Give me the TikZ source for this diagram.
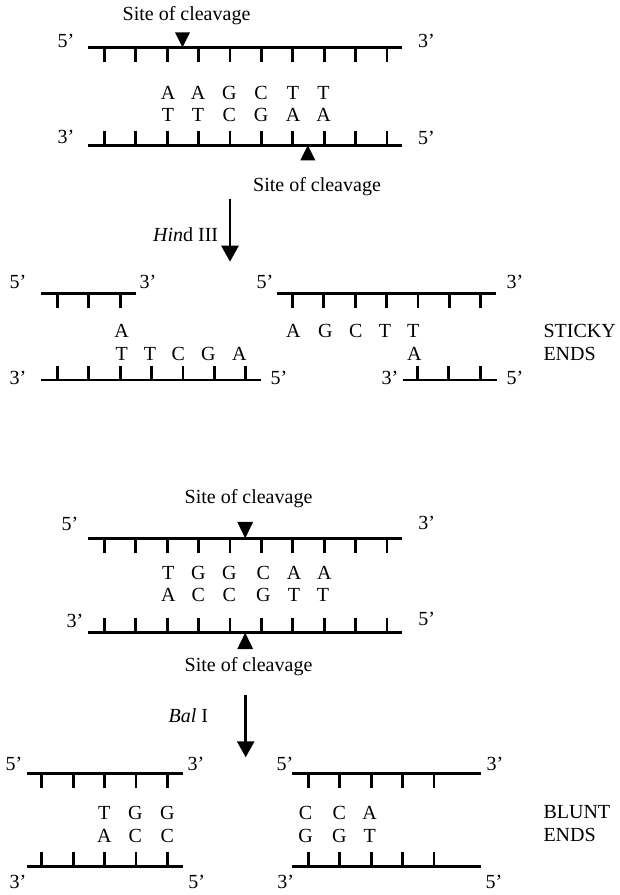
\documentclass[tikz,border=0pt]{standalone}
\usepackage{fontspec}
\setmainfont{Liberation Serif}
\usetikzlibrary{arrows.meta,positioning}

\begin{document}
\begin{tikzpicture}[x=1pt, y=-1pt,
    every node/.style={inner sep=0pt, font=\fontsize{20}{24}\selectfont},
    strand/.style={line width=2.8pt},
    rung/.style={line width=2.8pt},
    site/.style={fill=black},
    enzyme/.style={line width=2.8pt, -{Triangle[length=16pt, width=17pt]}}]
  \useasboundingbox (0,0) rectangle (620,895);

  % Draw the strands with their rungs (x start/x end/y/first rung/rungs/direction)
  \foreach \xa/\xb/\ys/\xt/\nt/\dd in {
      88.3/401.7/47.3/104.3/10/1, 88.3/401.7/145.3/104.3/10/-1,
      41.3/135.7/293.3/57.3/3/1, 41.3/260.7/380/57.3/7/-1,
      276.7/495.7/293.3/292.3/7/1, 402.7/496.7/380/417.3/3/-1,
      88.3/401.7/538.3/104.3/10/1, 88.3/401.7/632.7/104.3/10/-1,
      26.7/182.7/773.3/41.7/5/1, 26.7/182.7/866.7/41.7/5/-1,
      292.3/480.7/773.3/308.3/5/1, 292.3/480.7/866.7/308.3/5/-1} {
    \draw[strand] (\xa,\ys) -- (\xb,\ys);
    \foreach \k in {1,...,\nt} {
      % Compute x of the rung
      \pgfmathsetmacro{\xk}{\xt+(\k-1)*31.4}
      \draw[rung] (\xk,\ys) -- ++(0,\dd*14.5);
    }
  }

  % Draw the strand ends
  \foreach \nm/\xx/\yy/\txt in {
      hA1/66/41/5', hA2/426.5/40.5/3', hA3/66/137/3', hA4/426.5/137.5/5',
      sL1/18/282.3/5', sL2/148/282.3/3', sL3/18/378.3/3', sL4/279/378.3/5',
      sR1/265/282.3/5', sR2/515/282.3/3', sR3/390/378.3/3', sR4/515/378.3/5',
      bA1/70/524/5', bA2/426.7/523.3/3', bA3/75/620.7/3', bA4/426.7/619.3/5',
      bL1/14/764/5', bL2/196/764/3', bL3/18/882.3/3', bL4/196.7/882.3/5',
      bR1/285/764/5', bR2/495/764/3', bR3/285.7/882.3/3', bR4/494/882.3/5'} {
    \node (\nm) at (\xx,\yy) {\txt};
  }

  % HindIII site
  \foreach \xx/\txt [count=\i] in {168/A, 198/A, 229.3/G, 261/C, 293/T, 323.5/T}
    \node (hup\i) at (\xx,92.7) {\txt};
  \foreach \xx/\txt [count=\i] in {168/T, 198/T, 229.3/C, 261/G, 293/A, 323.5/A}
    \node (hlow\i) at (\xx,115) {\txt};
  \fill[site] (182.5,47.3) -- ++(-7.5,-15) -- ++(15,0) -- cycle;
  \fill[site] (307.8,145.3) -- ++(-7.5,15) -- ++(15,0) -- cycle;
  \node (hsite1) at (186.5,15.3) {Site of cleavage};
  \node (hsite2) at (317,186.7) {Site of cleavage};

  % Draw the HindIII arrow
  \coordinate (hindfrom) at (230,199.3);
  \coordinate (hindto) at (230,261.7);
  \draw[enzyme] (hindfrom) -- (hindto);
  \node[anchor=east] (hind) at (218.3,235) {\textit{Hin}d III};

  % Sticky fragments
  \node (sl1) at (121.7,331) {A};
  \foreach \xx/\txt [count=\i] in {121.7/T, 150/T, 178.3/C, 208.3/G, 239.3/A}
    \node (sllow\i) at (\xx,354.3) {\txt};
  \foreach \xx/\txt [count=\i] in {293.3/A, 325.3/G, 355.7/C, 385/T, 413.3/T}
    \node (srup\i) at (\xx,331) {\txt};
  \node (sr1) at (414.3,354.3) {A};
  \node[anchor=west] (sticky) at (543.3,331) {STICKY};
  \node[anchor=west] (stickyends) at (543.3,354.3) {ENDS};

  % BalI site
  \foreach \xx/\txt [count=\i] in {168.3/T, 198.3/G, 229.3/G, 263.3/C, 294/A, 324.3/A}
    \node (bup\i) at (\xx,572.7) {\txt};
  \foreach \xx/\txt [count=\i] in {168.3/A, 198.3/C, 229.3/C, 263.3/G, 294/T, 323/T}
    \node (blow\i) at (\xx,595.3) {\txt};
  \fill[site] (245.2,538.3) -- ++(-8,-16.5) -- ++(16,0) -- cycle;
  \fill[site] (245.2,632.7) -- ++(-8,16.5) -- ++(16,0) -- cycle;
  \node (bsite1) at (248.5,498.3) {Site of cleavage};
  \node (bsite2) at (248.5,666.7) {Site of cleavage};

  % Draw the BalI arrow
  \coordinate (balfrom) at (245.7,695);
  \coordinate (balto) at (245.7,757.3);
  \draw[enzyme] (balfrom) -- (balto);
  \node[anchor=east] (bal) at (208.3,715.7) {\textit{Bal} I};

  % Blunt fragments
  \foreach \xx/\up/\low [count=\i] in {104.3/T/A, 135.3/G/C, 167.3/G/C} {
    \node (blup\i) at (\xx,812.7) {\up};
    \node (bllow\i) at (\xx,835.7) {\low};
  }
  \foreach \xx/\up/\low [count=\i] in {305.5/C/G, 339.3/C/G, 369.7/A/T} {
    \node (brup\i) at (\xx,812.7) {\up};
    \node (brlow\i) at (\xx,835.7) {\low};
  }
  \node[anchor=west] (blunt) at (543.3,811.7) {BLUNT};
  \node[anchor=west] (bluntends) at (543.3,835) {ENDS};
\end{tikzpicture}
\end{document}
